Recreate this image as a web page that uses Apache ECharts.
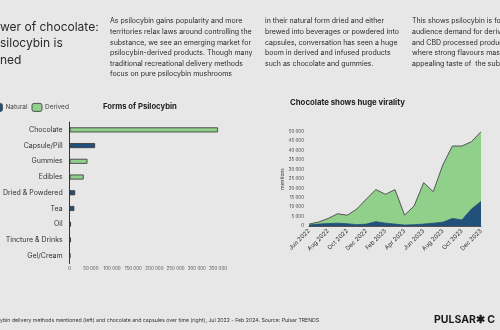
<!DOCTYPE html>
<html>
<head>
<meta charset="utf-8">
<script src="https://cdn.jsdelivr.net/npm/echarts@6/dist/echarts.min.js"></script>
<style>
  html, body { margin: 0; padding: 0; background: #e6e7e6; }
  #chart { width: 500px; height: 330px; }
</style>
</head>
<body>
<div id="chart"></div>
<script>
// forms of psilocybin (left)
const forms = ['Chocolate', 'Capsule/Pill', 'Gummies', 'Edibles', 'Dried & Powdered', 'Tea', 'Oil', 'Tincture & Drinks', 'Gel/Cream']
const natural = ['-', 60000, '-', '-', 13000, 11000, 3000, '-', 1500]
const derived = [350000, '-', 42000, 33000, '-', '-', '-', 3000, '-']

// chocolate vs capsules over time (right)
const months = ['Jun 2022', 'Jul 2022', 'Aug 2022', 'Sep 2022', 'Oct 2022', 'Nov 2022', 'Dec 2022',
  'Jan 2023', 'Feb 2023', 'Mar 2023', 'Apr 2023', 'May 2023', 'Jun 2023', 'Jul 2023', 'Aug 2023',
  'Sep 2023', 'Oct 2023', 'Nov 2023', 'Dec 2023']
const chocolate = [1000, 2100, 4000, 6500, 5700, 9000, 14300, 19300, 16800, 19300, 5800, 10600, 23000, 18200, 32300, 42400, 42400, 44700, 50000]
const capsules = [500, 1000, 1300, 1500, 1200, 700, 1000, 2300, 1500, 1000, 500, 700, 1000, 1500, 2000, 4000, 3200, 9000, 13000]

const NAVY = '#21507a'
const GREEN = '#90d08a'
const FONT = 'Inter'

const para1 = ['As psilocybin gains popularity and more', 'territories relax laws around controlling the',
  'substance, we see an emerging market for', 'psilocybin-derived products. Though many',
  'traditional recreational delivery methods', 'focus on pure psilocybin mushrooms']
const para2 = ['in their natural form dried and either', 'brewed into beverages or powdered into',
  'capsules, conversation has seen a huge', 'boom in derived and infused products', 'such as chocolate and gummies.']
const para3 = ['This shows psilocybin is following', 'audience demand for derived', 'and CBD processed products',
  'where strong flavours mask', 'appealing taste of  the substance']

function spaced(v) {
  return String(v).replace(/\B(?=(\d{3})+(?!\d))/g, ' ')
}

function textBlock(lines, x, y, size, lh, extra) {
  return {
    type: 'text',
    left: x,
    top: y,
    style: Object.assign({
      text: lines.join('\n'),
      font: size + 'px ' + FONT,
      lineHeight: lh,
      fill: '#2a2a2a'
    }, extra || {})
  }
}

const chart = echarts.init(document.getElementById('chart'))

chart.setOption({
  backgroundColor: '#e6e7e6',
  animation: false,
  textStyle: { fontFamily: FONT },
  title: [
    {
      text: 'Forms of Psilocybin',
      left: 103,
      top: 103,
      padding: 0,
      textStyle: { fontSize: 7.7, fontWeight: 'bold', color: '#222' }
    },
    {
      text: 'Chocolate shows huge virality',
      left: 290,
      top: 99,
      padding: 0,
      textStyle: { fontSize: 7.8, fontWeight: 'bold', color: '#222' }
    }
  ],
  legend: {
    data: ['Natural', 'Derived'],
    left: -8,
    top: 103,
    padding: 0,
    itemWidth: 10,
    itemHeight: 8,
    itemGap: 4,
    icon: 'roundRect',
    itemStyle: { borderColor: '#333', borderWidth: 0.8 },
    textStyle: { fontSize: 6.5, color: '#444', padding: [0, 0, 0, -2] }
  },
  graphic: [
    textBlock(['wer of chocolate:', 'silocybin is', 'ned'], 0, 19, 12, 16.5),
    textBlock(para1, 110, 16, 7, 10.6),
    textBlock(para2, 265, 16, 7, 10.6),
    textBlock(para3, 412, 16, 7, 10.6),
    textBlock(['ybin delivery methods mentioned (left) and chocolate and capsules over time (right), Jul 2022 - Feb 2024. Source: Pulsar TRENDS'], 0, 317, 5.2, 6, { fill: '#333' }),
    {
      type: 'text',
      left: 434,
      top: 314,
      style: { text: 'PULSAR\u2731 C', font: 'bold 10.5px ' + FONT, fill: '#1a1a1a' }
    }
  ],
  grid: [
    { left: 67, right: 282, top: 122, bottom: 66.5 },
    { left: 309, right: 19, top: 131.7, bottom: 104 }
  ],
  xAxis: [
    {
      gridIndex: 0,
      type: 'value',
      min: 0,
      max: 350000,
      interval: 50000,
      axisLine: { show: false },
      axisTick: { show: false },
      splitLine: { show: false },
      axisLabel: { fontSize: 4.5, color: '#555', margin: 3, formatter: spaced }
    },
    {
      gridIndex: 1,
      type: 'category',
      data: months,
      boundaryGap: false,
      axisLine: { lineStyle: { color: '#555', width: 1 } },
      axisTick: { show: false },
      axisLabel: { interval: 1, rotate: 45, fontSize: 6, color: '#333', margin: 4 }
    }
  ],
  yAxis: [
    {
      gridIndex: 0,
      type: 'category',
      data: forms,
      inverse: true,
      axisLine: { lineStyle: { color: '#333', width: 1 } },
      axisTick: { show: false },
      axisLabel: { fontSize: 7, color: '#333', margin: 7 }
    },
    {
      gridIndex: 1,
      type: 'value',
      min: 0,
      max: 50000,
      interval: 5000,
      name: 'mentions',
      nameLocation: 'middle',
      nameGap: 21,
      nameTextStyle: { fontSize: 5, color: '#444' },
      axisLine: { show: false },
      axisTick: { show: false },
      splitLine: { show: false },
      axisLabel: { fontSize: 4.5, color: '#444', margin: 5, formatter: spaced }
    }
  ],
  series: [
    {
      name: 'Natural',
      type: 'bar',
      xAxisIndex: 0,
      yAxisIndex: 0,
      stack: 'forms',
      barWidth: 5,
      data: natural,
      itemStyle: { color: NAVY, borderColor: '#333', borderWidth: 0.8 }
    },
    {
      name: 'Derived',
      type: 'bar',
      xAxisIndex: 0,
      yAxisIndex: 0,
      stack: 'forms',
      barWidth: 5,
      data: derived,
      itemStyle: { color: GREEN, borderColor: '#333', borderWidth: 0.8 }
    },
    {
      name: 'Chocolate',
      type: 'line',
      xAxisIndex: 1,
      yAxisIndex: 1,
      data: chocolate,
      symbol: 'none',
      lineStyle: { color: '#555', width: 1 },
      areaStyle: { color: GREEN, opacity: 1 }
    },
    {
      name: 'Capsules',
      type: 'line',
      xAxisIndex: 1,
      yAxisIndex: 1,
      data: capsules,
      symbol: 'none',
      lineStyle: { color: NAVY, width: 0.8 },
      areaStyle: { color: NAVY, opacity: 1 }
    }
  ]
})
</script>
</body>
</html>
